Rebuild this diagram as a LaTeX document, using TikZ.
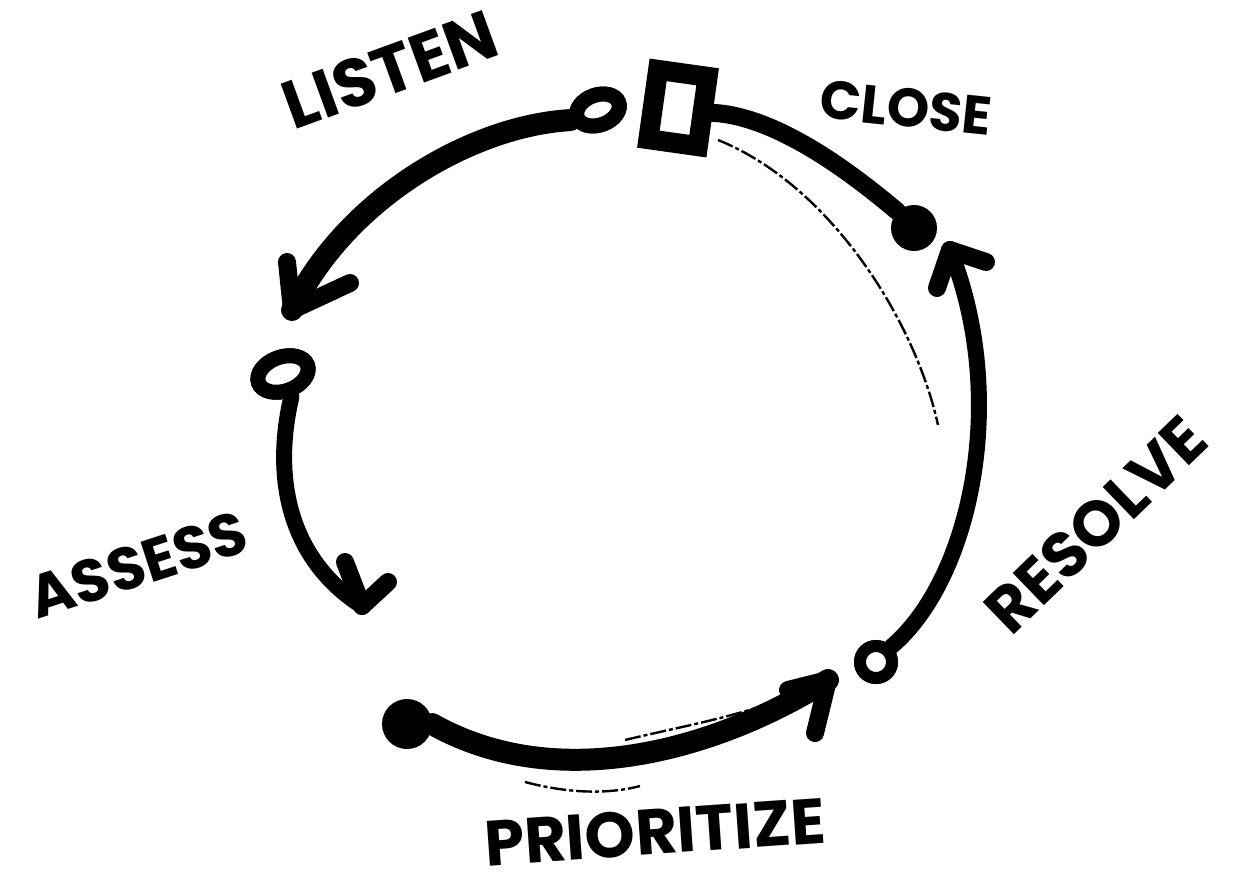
\documentclass[tikz,border=0pt]{standalone}
\usepackage{fontspec}
\usetikzlibrary{shapes.geometric}
\setmainfont{Poppins}
\begin{document}
\begin{tikzpicture}[x=1pt,y=-1pt,
  ink/.style={draw=black,line width=20pt,line cap=round,line join=round},
  armstroke/.style={draw=black,line width=18pt,line cap=round},
  sketch/.style={draw=black,line width=2.4pt,dash pattern=on 16pt off 3pt on 4pt off 3pt},
  lbl/.style={font=\fontsize{#1}{#1}\selectfont\bfseries,inner sep=0pt,text=black},
  ring/.style={draw=black,line width=15pt,fill=white,inner sep=0pt},
  dot/.style={draw=black,fill=black,circle,line width=2pt,inner sep=0pt}]
\useasboundingbox (0,0) rectangle (1234,889);
% named points
\node[ring,ellipse,minimum width=44pt,minimum height=30pt,rotate=20] (listen) at (598,110) {};
\node[draw=black,line width=20pt,fill=white,minimum width=50pt,minimum height=70pt,inner sep=0pt,rotate=-8] (square) at (678,108) {};
\node[dot,minimum size=44pt] (closedot) at (914,228) {};
\node[ring,ellipse,minimum width=52pt,minimum height=34pt,rotate=20] (assess) at (283,374) {};
\node[dot,minimum size=48pt] (priodot) at (407,724) {};
\node[ring,circle,minimum size=32pt,line width=12pt] (resolve) at (876,662) {};
\coordinate (tipL) at (292,310);
\coordinate (tipA) at (362,606);
\coordinate (tipP) at (828,680);
\coordinate (tipR) at (950,250);
\coordinate (armL1) at (287,262);
\coordinate (armL2) at (350,283);
\coordinate (armA1) at (345,562);
\coordinate (armA2) at (388,582);
\coordinate (armP1) at (788,690);
\coordinate (armP2) at (815,733);
\coordinate (armR1) at (937,288);
\coordinate (armR2) at (986,262);
\coordinate (s1) at (718,140);
\coordinate (s2) at (938,425);
\coordinate (s3) at (525,782);
\coordinate (s4) at (640,786);
\coordinate (s5) at (625,740);
\coordinate (s6) at (765,705);
% sketch lines
\draw[sketch] (s1) .. controls (830,185) and (915,320) .. (s2);
\draw[sketch] (s3) .. controls (570,794) and (610,794) .. (s4);
\draw[sketch] (s5) .. controls (675,728) and (720,720) .. (s6);
% main strokes
\draw[ink,line width=22pt] (listen.west) .. controls (470,126) and (345,200) .. (tipL);
\draw[armstroke] (tipL) -- (armL1);
\draw[armstroke] (tipL) -- (armL2);
\draw[ink,line width=16pt] (assess.south) .. controls (272,480) and (290,560) .. (tipA);
\draw[armstroke] (tipA) -- (armA1);
\draw[armstroke] (tipA) -- (armA2);
\draw[ink,line width=22pt] (priodot.east) .. controls (560,796) and (720,748) .. (tipP);
\draw[armstroke] (tipP) -- (armP1);
\draw[armstroke] (tipP) -- (armP2);
\draw[ink,line width=16pt] (resolve.north east) .. controls (970,580) and (1010,400) .. (tipR);
\draw[armstroke] (tipR) -- (armR1);
\draw[armstroke] (tipR) -- (armR2);
\draw[ink,line width=18pt] (square.east) .. controls (780,116) and (860,180) .. (closedot.north west);
% redraw nodes on top
\node[ring,ellipse,minimum width=44pt,minimum height=30pt,rotate=20] at (listen) {};
\node[ring,ellipse,minimum width=52pt,minimum height=34pt,rotate=20] at (assess) {};
\node[ring,circle,minimum size=32pt,line width=12pt] at (resolve) {};
% labels
\node[lbl=68,rotate=20] (tListen) at (390,70) {LISTEN};
\node[lbl=54,rotate=-6] (tClose) at (906,108) {CLOSE};
\node[lbl=60,rotate=18] (tAssess) at (138,565) {ASSESS};
\node[lbl=64,rotate=44] (tResolve) at (1096,525) {RESOLVE};
\node[lbl=64,rotate=4] (tPrio) at (655,832) {PRIORITIZE};
\end{tikzpicture}
\end{document}
